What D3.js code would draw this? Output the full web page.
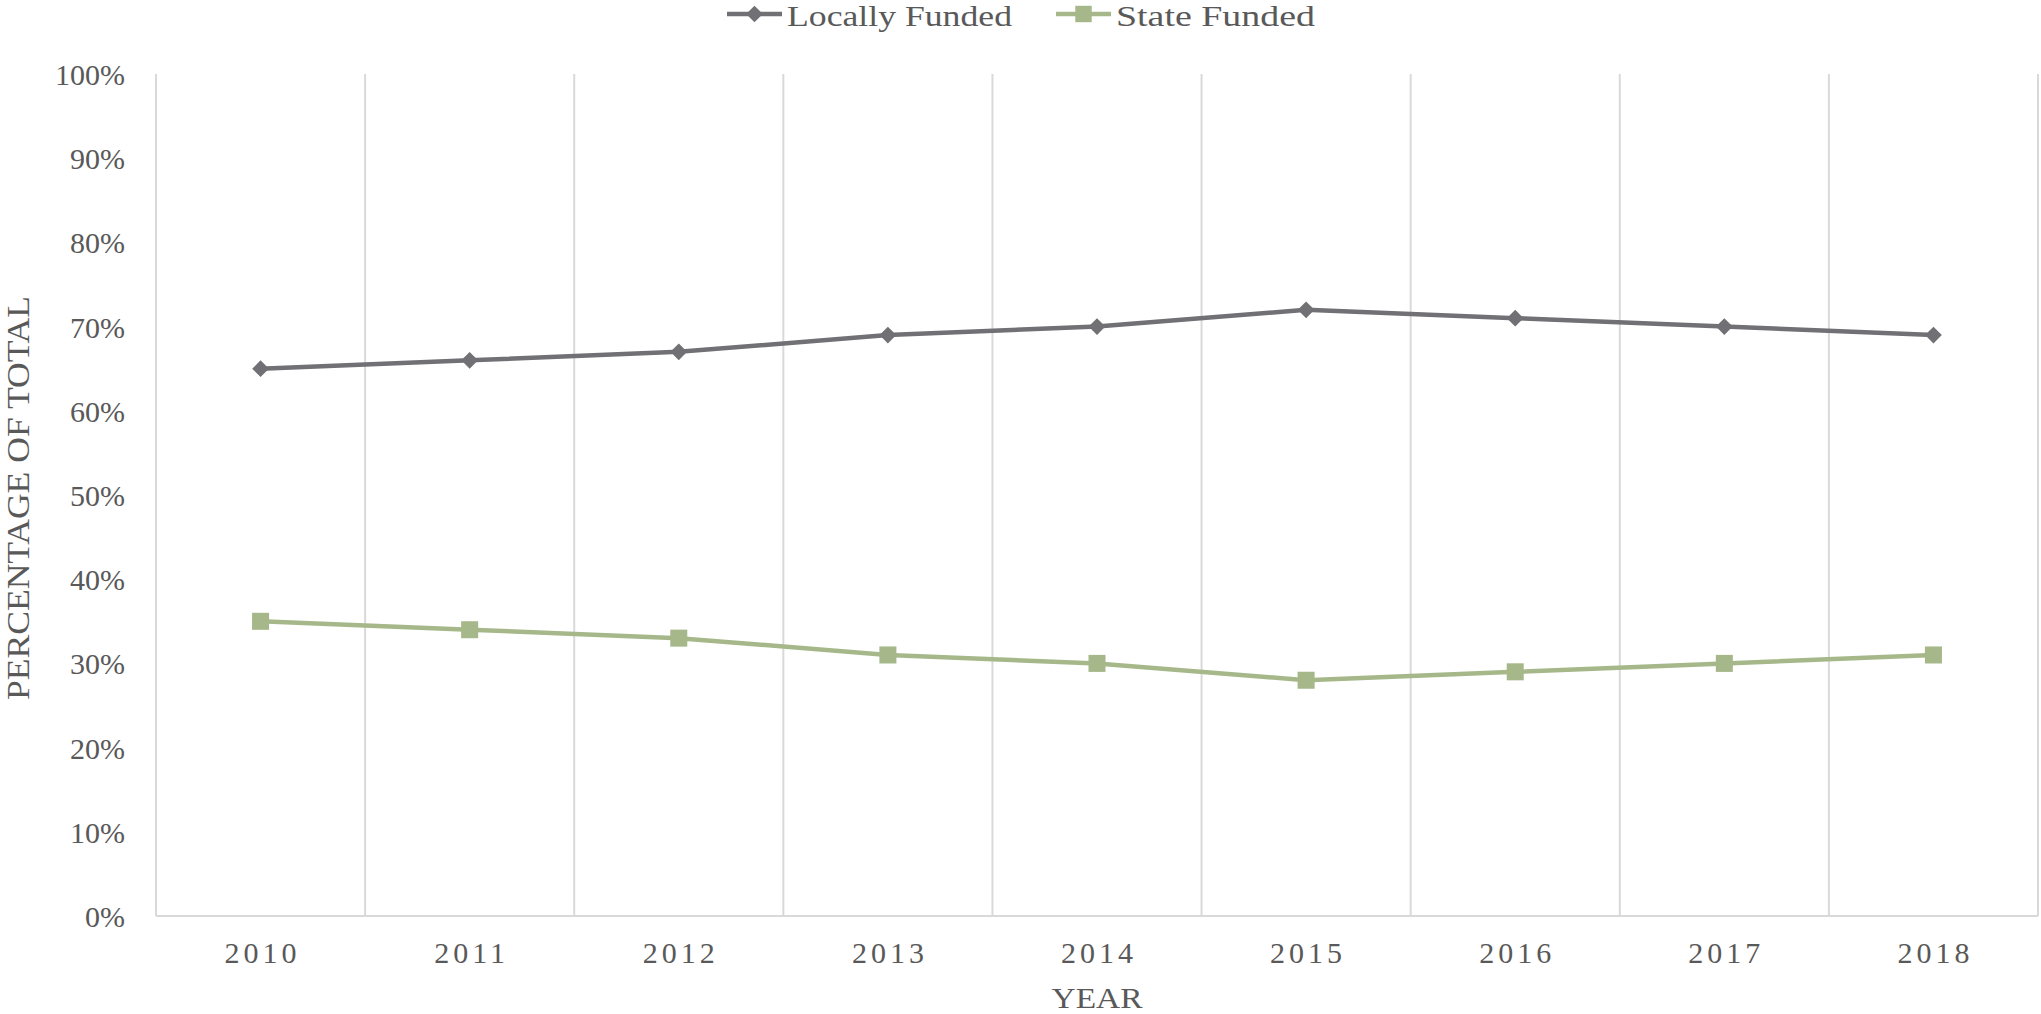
<!DOCTYPE html>
<html><head><meta charset="utf-8">
<script src="https://cdn.jsdelivr.net/npm/d3@7"></script>
<style>body{margin:0;background:#fff}svg{display:block}</style>
</head><body>
<script>
const years = ["2010","2011","2012","2013","2014","2015","2016","2017","2018"];
const locallyFunded = [65,66,67,69,70,72,71,70,69];
const stateFunded = [35,34,33,31,30,28,29,30,31];
const yTicks = [0,10,20,30,40,50,60,70,80,90,100];
const seriesNames = ["Locally Funded","State Funded"];

const W=2041,H=1014;
const m={l:156,r:2038,t:74,b:916};
const textColor="#595959", gridColor="#d9d9d9";
const colors=["#707075","#a6b88a"];
const font="'Liberation Serif','DejaVu Serif',serif";

const svg=d3.select("body").append("svg").attr("width",W).attr("height",H);
const x=d3.scaleBand().domain(years).range([m.l,m.r]).padding(0);
const y=d3.scaleLinear().domain([0,100]).range([m.b,m.t]);

// vertical gridlines at category boundaries
const bounds=years.map(d=>x(d)).concat([m.r]);
svg.append("g").selectAll("line").data(bounds).join("line")
  .attr("x1",d=>d).attr("x2",d=>d).attr("y1",m.t).attr("y2",m.b)
  .attr("stroke",gridColor).attr("stroke-width",2);
svg.append("line").attr("x1",m.l).attr("x2",m.r).attr("y1",m.b).attr("y2",m.b)
  .attr("stroke",gridColor).attr("stroke-width",2);

// y axis labels
const yAxis=d3.axisLeft(y).tickValues(yTicks).tickFormat(d=>d+"%").tickSize(0).tickPadding(31);
const ya=svg.append("g").attr("transform",`translate(${m.l},0)`).call(yAxis);
ya.select(".domain").remove();
ya.selectAll("text").attr("font-family",font).attr("font-size",30).attr("fill",textColor).attr("dy","0.35em");

// x axis labels
const xAxis=d3.axisBottom(x).tickSize(0).tickPadding(26);
const xa=svg.append("g").attr("transform",`translate(0,${m.b})`).call(xAxis);
xa.select(".domain").remove();
xa.selectAll("text").attr("font-family",font).attr("font-size",30).attr("fill",textColor)
  .attr("letter-spacing","4px").attr("dx","2px");

// axis titles
svg.append("text").attr("transform",`translate(29,498) rotate(-90)`)
  .attr("text-anchor","middle").attr("font-family",font).attr("font-size",31).attr("fill",textColor)
  .attr("textLength",404).attr("lengthAdjust","spacingAndGlyphs").text("PERCENTAGE OF TOTAL");
svg.append("text").attr("x",(m.l+m.r)/2).attr("y",1008)
  .attr("text-anchor","middle").attr("font-family",font).attr("font-size",30).attr("fill",textColor)
  .attr("textLength",91).attr("lengthAdjust","spacingAndGlyphs").text("YEAR");

const cx=d=>x(d)+x.bandwidth()/2;
const series=[locallyFunded,stateFunded];
const line=d3.line().x((d,i)=>cx(years[i])).y(d=>y(d));
series.forEach((s,k)=>{
  svg.append("path").datum(s).attr("d",line).attr("fill","none")
    .attr("stroke",colors[k]).attr("stroke-width",4.5).attr("stroke-linejoin","round");
  svg.append("g").selectAll("path").data(s).join("path")
    .attr("transform",(d,i)=>`translate(${cx(years[i])},${y(d)})${k===0?" rotate(45)":""}`)
    .attr("d",d3.symbol().type(d3.symbolSquare).size(k===0?140:290)())
    .attr("fill",colors[k]);
});

// legend
const leg=[{x0:727,x1:782,tx:787,tl:225},{x0:1056,x1:1111,tx:1116,tl:199}];
leg.forEach((L,k)=>{
  const g=svg.append("g");
  g.append("line").attr("x1",L.x0).attr("x2",L.x1).attr("y1",14).attr("y2",14)
    .attr("stroke",colors[k]).attr("stroke-width",4.5);
  g.append("path").attr("transform",`translate(${(L.x0+L.x1)/2},14)${k===0?" rotate(45)":""}`)
    .attr("d",d3.symbol().type(d3.symbolSquare).size(k===0?140:270)()).attr("fill",colors[k]);
  g.append("text").attr("x",L.tx).attr("y",26)
    .attr("font-family",font).attr("font-size",29).attr("fill",textColor)
    .attr("textLength",L.tl).attr("lengthAdjust","spacingAndGlyphs").text(seriesNames[k]);
});
</script>
</body></html>
